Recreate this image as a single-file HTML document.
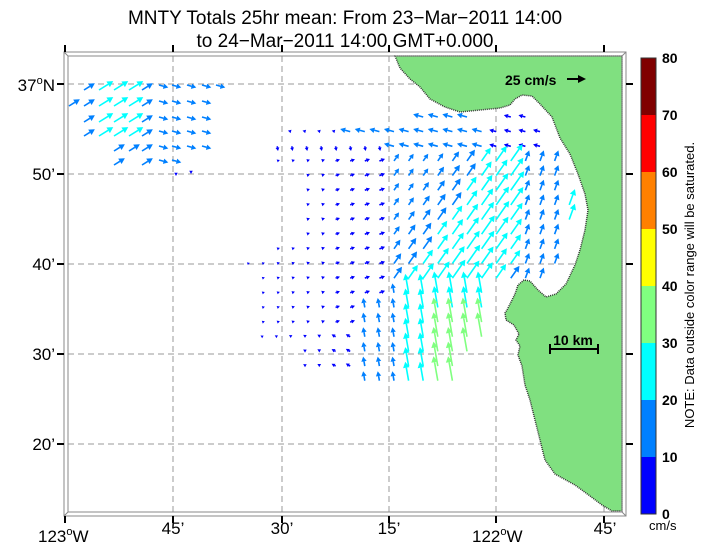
<!DOCTYPE html>
<html><head><meta charset="utf-8"><style>
html,body{margin:0;padding:0;background:#fff;}
svg{display:block;font-family:"Liberation Sans",sans-serif;}
</style></head><body>
<svg id="s" width="703" height="548" viewBox="0 0 703 548" xmlns="http://www.w3.org/2000/svg">
<text x="345" y="24" font-size="19" text-anchor="middle">MNTY Totals 25hr mean: From 23−Mar−2011 14:00</text>
<text x="345" y="47" font-size="19" text-anchor="middle">to 24−Mar−2011 14:00 GMT+0.000</text>
<g id="grid" stroke="#999" stroke-dasharray="6,4" stroke-width="1"></g>
<polygon fill="#80e080" stroke="#333" stroke-width="1.5" stroke-dasharray="1,1" points="395,56 400,68 410,79 420,87 430,99 445,107 460,112 480,110 500,108 510,105 515,99 522,95 532,96 540,104 552,117 560,138 570,154 578,174 585,194 588,210 585,230 580,250 575,265 566,284 556,294 546,297 538,290 530,281 524,280 518,285 515,294 510,304 507,310 505,313 506,320 514,325 519,334 516,340 520,346 518,355 522,366 525,385 530,400 535,420 540,440 545,460 555,474 575,485 590,496 602,505 612,511 622,511 622,56"/>
<g id="arrows"></g>
<g fill="none" stroke="#888" stroke-width="1">
<rect x="64" y="52" width="562" height="464"/>
<rect x="68" y="56" width="554" height="456"/>
<line x1="64" y1="52" x2="68" y2="56"/><line x1="626" y1="52" x2="622" y2="56"/>
<line x1="64" y1="516" x2="68" y2="512"/><line x1="626" y1="516" x2="622" y2="512"/>
</g>
<g id="ticks" stroke="#000" stroke-width="2"></g>
<g font-size="17">
<text x="55" y="91" text-anchor="end">37<tspan font-size="11" dy="-7">o</tspan><tspan dy="7">N</tspan></text>
<text x="55" y="180" text-anchor="end">50’</text><text x="55" y="270" text-anchor="end">40’</text><text x="55" y="360" text-anchor="end">30’</text><text x="55" y="450" text-anchor="end">20’</text>
<text x="38" y="542">123<tspan font-size="11" dy="-7">o</tspan><tspan dy="7">W</tspan></text>
<text x="173" y="534" text-anchor="middle">45’</text>
<text x="282" y="534" text-anchor="middle">30’</text>
<text x="389" y="534" text-anchor="middle">15’</text>
<text x="472" y="542">122<tspan font-size="11" dy="-7">o</tspan><tspan dy="7">W</tspan></text>
<text x="605" y="534" text-anchor="middle">45’</text>
</g>
<text x="505" y="85" font-size="14" font-weight="bold">25 cm/s</text>
<line x1="567" y1="79" x2="580" y2="79" stroke="#000" stroke-width="2"/><polygon points="586,79 578,75 578,83" fill="#000"/>
<text x="573" y="345" font-size="14" font-weight="bold" text-anchor="middle">10 km</text>
<g stroke="#000" stroke-width="2"><line x1="550" y1="349" x2="598" y2="349"/><line x1="550" y1="344" x2="550" y2="354"/><line x1="598" y1="344" x2="598" y2="354"/></g>
<g id="cbar"></g>
<text x="649" y="530" font-size="13">cm/s</text>
<text transform="translate(694,285) rotate(-90)" font-size="13" text-anchor="middle">NOTE: Data outside color range will be saturated.</text>
</svg>
<script>
var NS="http://www.w3.org/2000/svg";
function el(p,t,a){var e=document.createElementNS(NS,t);for(var k in a)e.setAttribute(k,a[k]);p.appendChild(e);return e;}
var g=document.getElementById('grid'),tk=document.getElementById('ticks');
[173,282,389,496,604].forEach(function(x){el(g,'line',{x1:x,y1:56,x2:x,y2:512});});
[84,174,264,354,444].forEach(function(y){el(g,'line',{x1:68,y1:y,x2:622,y2:y});});
[65,173,282,389,496,604].forEach(function(x){el(tk,'line',{x1:x,y1:45,x2:x,y2:52});el(tk,'line',{x1:x,y1:516,x2:x,y2:523});});
[84,174,264,354,444].forEach(function(y){el(tk,'line',{x1:57,y1:y,x2:64,y2:y});el(tk,'line',{x1:626,y1:y,x2:633,y2:y});});
var cols=['#0000ff','#0080ff','#00ffff','#80ff80','#ffff00','#ff8000','#ff0000','#800000'];
var cb=document.getElementById('cbar');
for(var i=0;i<8;i++){el(cb,'rect',{x:641,y:514-57*(i+1),width:15,height:57,fill:cols[i]});
 var t=el(cb,'text',{x:662,y:514-57*i+5,'font-size':14,'font-weight':'bold'});t.textContent=String(i*10);}
var t=el(cb,'text',{x:662,y:514-57*8+5,'font-size':14,'font-weight':'bold'});t.textContent='80';
el(cb,'rect',{x:641,y:58,width:15,height:456,fill:'none',stroke:'#333','stroke-width':1});
var A=document.getElementById('arrows');
function arrow(x,y,ang,s){
 var c=cols[Math.min(7,Math.floor(s/10))];
 var L=s*0.8, r=ang*Math.PI/180, dx=Math.cos(r), dy=-Math.sin(r);
 var tx=x+dx*L, ty=y+dy*L, h=Math.min(6,2+L*0.3), w=h*0.55;
 var bx=tx-dx*h, by=ty-dy*h;
 if(L>h+1) el(A,'line',{x1:x,y1:y,x2:bx,y2:by,stroke:c,'stroke-width':1.6});
 el(A,'polygon',{fill:c,points:tx+','+ty+' '+(bx-dy*w)+','+(by+dx*w)+' '+(bx+dy*w)+','+(by-dx*w)});
}
var nx=[77,92,107,122,137,150,165,178,193,208,222];
var rows=[[85,1,10],[101,0,9],[117,1,9],[131,1,9],[146,3,9],[160,3,8]];
rows.forEach(function(r){for(var i=r[1];i<=r[2];i++){var x=nx[i];if(r[0]==160&&i==4)continue;
 if(r[0]==160&&i==8){arrow(191,170,-90,5);continue;}
 if(x<160){arrow(x-8,r[0]+5,32,(x<150&&r[0]<140&&i>1)?21:16);}
 else arrow(x-6,r[0],-15,12);}});
arrow(176,172,-90,5);
function coastX(y){var p=[[56,395],[87,420],[107,445],[112,460],[108,500],[96,522],[104,540],[138,560],[174,578],[210,588],[250,580],[284,566],[297,546],[281,530],[294,515],[313,505],[340,516],[366,522],[400,530]];
 for(var i=0;i<p.length-1;i++)if(y>=p[i][0]&&y<=p[i+1][0])return p[i][1]+(p[i+1][1]-p[i][1])*(y-p[i][0])/(p[i+1][0]-p[i][0]);return 530;}
function leftB(y){if(y<125)return 320;if(y<140)return 290;if(y<165)return 275;if(y<240)return 300;if(y<255)return 270;if(y<275)return 245;if(y<300)return 260;if(y<345)return 260;return 300;}
function botB(x){if(x<300)return 345;if(x<355)return 370;if(x<455)return 385;if(x<475)return 360;if(x<495)return 350;return 290;}
for(var j=0;j<19;j++){var y=117+14.65*j;
 for(var i=0;i<24;i++){var x=248+14.6*i;
  if(x<leftB(y)||y>botB(x)||x>coastX(y)-14)continue;
  if(y<120&&(x<420||x>480)&&x<500)continue;
  var ang,s;
  if(x<380&&y>150&&!(y>300&&x>360)){ang=y>330?150:20;s=2.5+(x-250)/130*5;}
  else if(y<150){ang=165;s=x<340?5:(x>490?9:13);if(y>140&&x<390){ang=-80;s=6;}}
  else if(y>285&&x<495){ang=100;s=x<395?12:(x>430?27:24);if(x>435&&y>310)s=31;}
  else{var d=Math.abs((x-430)*160+(y-320)*100)/188.7;ang=55;s=Math.max(11,29-d*0.22);
   if(x>515){ang=70;s=14;} if(x>560){ang=70;s=21;}}
  arrow(x,y,ang,s);}}
</script>
</body></html>
